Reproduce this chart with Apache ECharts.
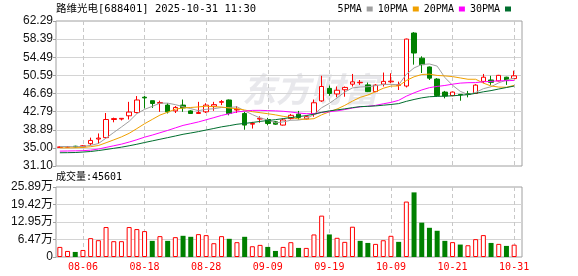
<!DOCTYPE html>
<html><head><meta charset="utf-8">
<script src="https://cdn.jsdelivr.net/npm/echarts@6/dist/echarts.min.js"></script>
<style>html,body{margin:0;padding:0;background:#fff}#c{width:578px;height:276px}</style>
</head><body><div id="c"></div>
<script>
const dates = ['08-01','08-04','08-05','08-06','08-07','08-08','08-11','08-12','08-13','08-14',
'08-15','08-18','08-19','08-20','08-21','08-22','08-25','08-26','08-27','08-28',
'08-29','09-01','09-02','09-03','09-04','09-05','09-08','09-09','09-10','09-11',
'09-12','09-15','09-16','09-17','09-18','09-19','09-22','09-23','09-24','09-25',
'09-26','09-29','09-30','10-09','10-10','10-13','10-14','10-15','10-16','10-17',
'10-20','10-21','10-22','10-23','10-24','10-27','10-28','10-29','10-30','10-31'];
const labelDates = ['08-06','08-18','08-28','09-09','09-19','10-09','10-21','10-31'];
const open = [35.10,35.15,35.35,35.25,35.90,36.90,37.20,41.10,41.20,41.90,
42.60,45.90,45.15,44.60,44.20,42.95,44.20,42.95,42.40,42.75,
43.95,44.80,45.30,43.15,42.40,40.10,41.20,41.10,40.60,39.90,
41.30,42.25,41.25,42.30,45.10,47.80,46.60,47.50,48.70,49.00,
48.55,47.10,48.70,49.20,48.45,48.30,59.70,54.30,52.40,49.80,
47.00,46.25,46.50,46.65,46.70,49.30,49.60,49.40,50.20,49.90];
const close = [35.20,35.25,35.20,35.45,36.60,37.10,41.10,41.30,41.35,42.70,
45.30,45.75,44.55,44.75,42.75,43.70,43.60,42.40,42.60,44.20,
44.30,44.95,42.40,43.30,39.90,40.25,41.35,40.25,40.10,41.00,
42.00,41.55,41.70,44.70,48.20,46.70,47.40,48.00,49.20,49.10,
47.10,48.50,49.30,49.35,48.55,58.40,55.40,52.90,50.00,46.25,
46.15,47.00,46.40,46.55,48.50,50.20,49.10,50.60,49.50,50.50];
const high = [35.30,35.35,35.45,35.60,37.20,38.10,42.50,41.50,41.40,44.90,
46.15,46.20,45.15,45.15,44.60,44.00,45.40,43.10,44.90,44.60,
44.90,45.30,45.40,44.00,42.75,40.60,41.80,41.45,40.75,41.30,
42.30,42.95,41.90,45.40,50.50,48.40,48.20,48.20,50.90,49.60,
49.05,48.70,51.20,51.05,49.25,58.50,59.90,54.70,52.50,50.00,
47.25,47.10,46.50,47.25,48.70,50.90,50.50,50.70,50.30,51.60];
const low = [35.00,35.05,35.10,35.20,35.50,35.90,37.00,40.50,40.90,41.10,
42.40,43.50,43.60,42.75,42.40,42.50,42.75,42.30,42.30,42.50,
42.97,44.20,42.00,42.50,38.90,39.15,40.40,39.85,39.95,39.80,
41.10,41.10,41.10,41.70,44.90,46.20,45.90,46.00,48.20,48.55,
47.00,47.00,48.20,48.90,47.45,48.00,52.90,51.10,49.60,46.00,
45.65,46.10,45.14,45.87,46.60,48.90,48.55,49.30,48.55,49.80];
const volume = [3.73,2.24,1.87,2.60,6.97,6.22,11.08,5.85,5.85,11.08,
10.33,9.58,5.97,7.72,5.97,7.34,7.84,7.47,8.46,8.09,
5.10,7.72,6.72,5.48,7.47,3.98,4.48,3.73,2.24,3.73,
5.48,3.36,3.36,8.34,15.30,8.34,7.10,5.60,11.20,5.97,
5.20,4.85,6.20,7.84,5.60,20.50,23.90,12.70,10.80,9.70,
5.97,5.50,4.60,4.35,6.60,8.10,5.20,4.85,4.10,4.56];
const ma5 = [35.30,35.28,35.25,35.30,35.54,35.92,37.09,38.31,39.49,40.71,
42.35,43.28,43.93,44.61,44.62,44.30,43.87,43.44,43.01,43.30,
43.42,43.69,43.69,43.83,42.97,42.16,41.44,41.01,40.37,40.59,
40.94,40.98,41.27,42.19,43.63,44.57,45.74,47.00,47.90,48.08,
48.16,48.38,48.64,48.67,48.56,50.82,52.20,52.92,53.05,52.59,
50.14,48.46,47.16,46.47,46.92,47.73,48.15,48.99,49.58,49.98];
const ma10 = [35.00,35.00,35.02,35.08,35.25,35.50,36.10,36.72,37.36,38.13,
39.14,40.19,41.12,42.05,42.67,43.33,43.58,43.69,43.81,43.96,
43.86,43.78,43.57,43.42,43.14,42.79,42.57,42.35,42.10,41.78,
41.55,41.21,41.14,41.28,42.11,42.76,43.36,44.14,45.05,45.86,
46.37,47.06,47.82,48.29,48.32,49.49,50.29,50.78,50.86,50.58,
50.48,50.33,50.04,49.76,49.76,48.94,48.31,48.08,48.03,48.45];
const ma20 = [34.30,34.33,34.36,34.40,34.50,34.75,35.10,35.45,35.80,36.25,
36.75,37.30,37.75,38.25,38.75,39.30,39.83,40.20,40.58,41.04,
41.50,41.98,42.34,42.74,42.90,43.06,43.07,43.02,42.96,42.87,
42.71,42.50,42.35,42.35,42.62,42.77,42.96,43.24,43.57,43.82,
43.96,44.14,44.48,44.78,45.22,46.12,46.83,47.46,47.95,48.22,
48.42,48.70,48.93,49.02,49.04,49.21,49.30,49.43,49.44,49.51];
const ma30 = [33.95,33.97,34.00,34.10,34.22,34.42,34.65,34.90,35.15,35.45,
35.78,36.15,36.50,36.85,37.20,37.55,37.92,38.20,38.50,38.84,
39.17,39.52,39.78,40.08,40.26,40.46,40.69,40.88,41.07,41.29,
41.52,41.73,41.94,42.25,42.64,42.96,43.17,43.39,43.65,43.87,
43.93,44.02,44.18,44.33,44.52,45.01,45.41,45.76,46.00,46.07,
46.13,46.20,46.33,46.44,46.73,47.06,47.32,47.66,47.98,48.29];
const priceTicks = ['31.10','35.00','38.89','42.79','46.69','50.59','54.49','58.39','62.29'];
const volTicks = ['0','6.47万','12.95万','19.42万','25.89万'];
const priceMin = 31.10, priceMax = 62.29, volMax = 25.89;
const prevClose = 35.00;
const titleText = '路维光电[688401] 2025-10-31 11:30';
const volTitle = '成交量:45601';

const RED = '#ff0000', GREEN = '#008000';
const monoFont = "'DejaVu Sans Mono','Noto Sans CJK SC',monospace";
const showLabel = (idx, val) => labelDates.indexOf(dates[idx]) >= 0;
const dashed = {show:true, interval: showLabel, alignWithLabel:true, lineStyle:{color:'#c8c8c8', type:[4,3], width:1}};

const candleData = dates.map((d,i)=>[open[i], close[i], low[i], high[i]]);
const volData = volume.map((v,i)=>{
  const prev = i === 0 ? prevClose : close[i-1];
  const up = close[i] >= prev;
  return {value: v, itemStyle: up ? {color:'#ffffff', borderColor:RED, borderWidth:1} : {color:GREEN, borderColor:GREEN, borderWidth:0}};
});

const chart = echarts.init(document.getElementById('c'), null, {renderer:'canvas'});
const frameY = (ticks) => ({
  type:'value', min:0, max:ticks.length-1, interval:1,
  axisLine:{show:false},
  axisTick:{show:true, length:3, lineStyle:{color:'#a0a0a0'}},
  axisLabel:{formatter:(v)=>ticks[Math.round(v)], margin:3, color:'#111', fontSize:12, fontFamily:"'Liberation Sans','Noto Sans CJK SC',sans-serif"},
  splitLine:{show:true, showMinLine:false, showMaxLine:false, lineStyle:{color:'#d4d4d4', width:1}}
});
const maSeries = (name, data, color) => ({
  name, type:'line', data, xAxisIndex:1, yAxisIndex:1, showSymbol:false, symbol:'none',
  color, lineStyle:{color, width:1}, itemStyle:{color}, silent:true, z:3
});

chart.setOption({
  animation:false,
  backgroundColor:'#ffffff',
  title:[
    {text:titleText, left:56, top:4, padding:0, textStyle:{fontFamily:monoFont, fontSize:10.5, fontWeight:'normal', color:'#000'}},
    {text:volTitle, left:56, top:172, padding:0, textStyle:{fontFamily:monoFont, fontSize:10, fontWeight:'normal', color:'#000'}}
  ],
  legend:{data:['5PMA','10PMA','20PMA','30PMA'], right:67, top:4, padding:0, align:'right', icon:'rect', itemWidth:6, itemHeight:5, itemGap:5,
    textStyle:{fontFamily:monoFont, fontSize:10, color:'#000'}},
  graphic:[
    {type:'text', left:242, top:72, z:-10, silent:true, style:{text:'东方财富', font:'italic bold 34px "Noto Sans CJK SC"', fill:'#e8e8ec'}}
  ],
  grid:[
    {left:56, top:21, width:466, height:145, show:true, borderColor:'#a0a0a0', borderWidth:1, backgroundColor:'transparent'},
    {left:56, top:21, width:462, height:145, show:false},
    {left:56, top:187, width:466, height:70, show:true, borderColor:'#a0a0a0', borderWidth:1, backgroundColor:'transparent'},
    {left:56, top:187, width:462, height:70, show:false}
  ],
  xAxis:[
    {gridIndex:0, type:'value', min:0, max:1, show:false},
    {gridIndex:1, type:'category', data:dates, boundaryGap:true, axisLine:{show:false}, axisTick:{show:false}, axisLabel:{show:false}, splitLine:dashed},
    {gridIndex:2, type:'value', min:0, max:1, show:false},
    {gridIndex:3, type:'category', data:dates, boundaryGap:true, axisLine:{show:false}, axisTick:{show:false},
      axisLabel:{show:true, interval:showLabel, color:RED, fontSize:10, fontFamily:monoFont, margin:5}, splitLine:dashed}
  ],
  yAxis:[
    Object.assign({gridIndex:0}, frameY(priceTicks)),
    {gridIndex:1, type:'value', min:priceMin, max:priceMax, show:false, splitLine:{show:false}},
    Object.assign({gridIndex:2}, frameY(volTicks)),
    {gridIndex:3, type:'value', min:0, max:volMax, show:false, splitLine:{show:false}}
  ],
  series:[
    {name:'K', type:'candlestick', data:candleData, xAxisIndex:1, yAxisIndex:1, barWidth:5, silent:true,
      itemStyle:{color:'#ffffff', color0:GREEN, borderColor:RED, borderColor0:GREEN, borderWidth:1}},
    maSeries('5PMA', ma5, '#a0a0a0'),
    maSeries('10PMA', ma10, '#f0a000'),
    maSeries('20PMA', ma20, '#ff00ff'),
    maSeries('30PMA', ma30, '#006e2e'),
    {name:'VOL', type:'bar', data:volData, xAxisIndex:3, yAxisIndex:3, barWidth:5, silent:true}
  ]
});
</script></body></html>
